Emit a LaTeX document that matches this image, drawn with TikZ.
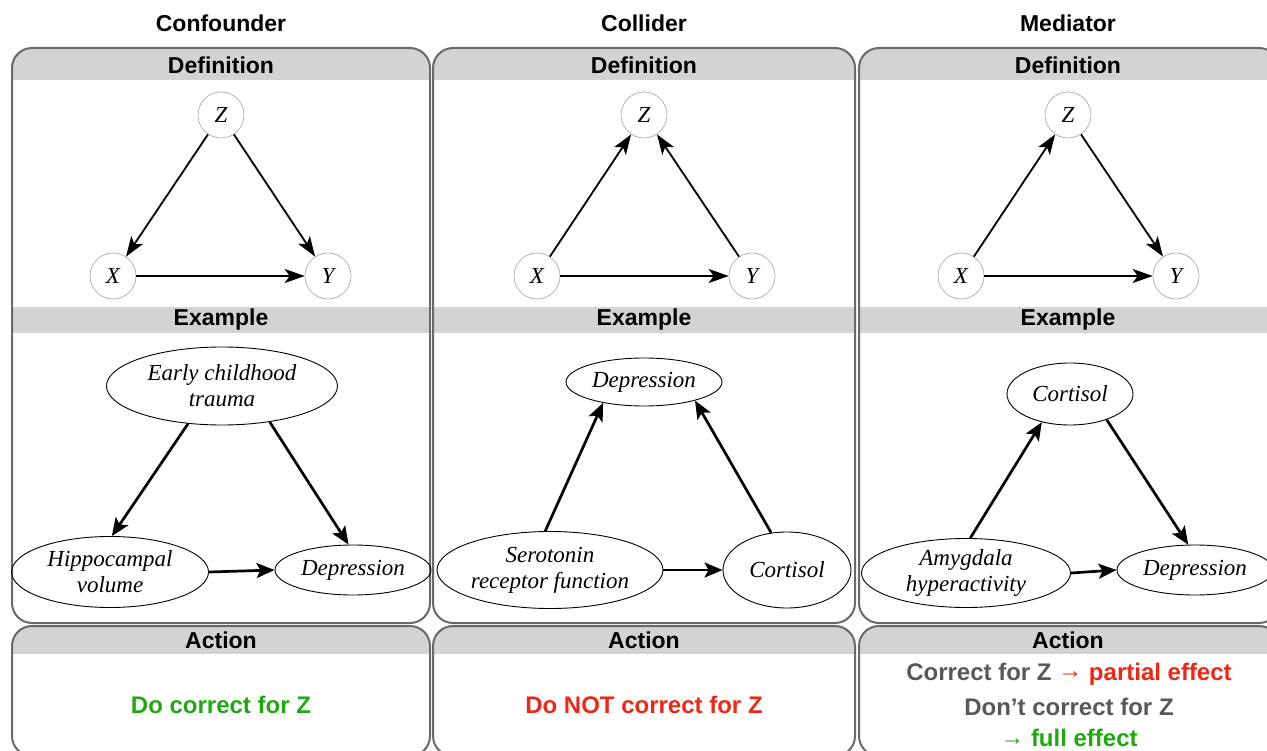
\documentclass[tikz,border=0pt]{standalone}
\usepackage{fontspec}
\setmainfont{Liberation Serif}
\setsansfont{Liberation Sans}
\usetikzlibrary{shapes.geometric, arrows.meta}

\definecolor{bandgray}{RGB}{211,211,211}
\definecolor{framegray}{RGB}{105,105,105}
\definecolor{textgray}{RGB}{88,88,88}
\definecolor{okgreen}{RGB}{30,170,15}
\definecolor{nored}{RGB}{238,38,22}

\newcommand{\toarrow}{\raisebox{1.5pt}{→}}

\begin{document}
\begin{tikzpicture}[x = 1pt, y = -1pt,
    head/.style = {font = \sffamily\bfseries\fontsize{23}{26}\selectfont},
    act/.style = {font = \sffamily\bfseries\fontsize{24}{30}\selectfont},
    var/.style = {circle, draw = gray!75, line width = 0.6pt, minimum size = 46pt, inner sep = 0pt, font = \fontsize{23}{26}\selectfont\itshape},
    ex/.style = {ellipse, draw, line width = 0.9pt, inner sep = 0pt, align = center, font = \fontsize{23}{26}\selectfont\itshape},
    defarrow/.style = {-{Stealth[length = 20pt, width = 14pt, inset = 5pt]}, line width = 1.8pt},
    exarrow/.style = {-{Stealth[length = 18pt, width = 15pt, inset = 4pt]}, line width = 2.7pt},
    panel/.style = {draw = framegray, line width = 2pt, rounded corners = 20pt}]

            \clip (0, 0) rectangle (1267, 751);

            % panels
            \begin{scope}
                \clip[rounded corners = 20pt] (12, 48) rectangle (430, 623);
                \fill[bandgray] (12, 48) rectangle (430, 80);
                \fill[bandgray] (12, 307) rectangle (430, 333);
            \end{scope}
            \draw[panel] (12, 48) rectangle (430, 623);
            \begin{scope}
                \clip[rounded corners = 20pt] (12, 626) rectangle (430, 756);
                \fill[bandgray] (12, 626) rectangle (430, 654);
            \end{scope}
            \draw[panel] (12, 626) rectangle (430, 756);

            \begin{scope}
                \clip[rounded corners = 20pt] (433, 48) rectangle (855, 623);
                \fill[bandgray] (433, 48) rectangle (855, 80);
                \fill[bandgray] (433, 307) rectangle (855, 333);
            \end{scope}
            \draw[panel] (433, 48) rectangle (855, 623);
            \begin{scope}
                \clip[rounded corners = 20pt] (433, 626) rectangle (855, 756);
                \fill[bandgray] (433, 626) rectangle (855, 654);
            \end{scope}
            \draw[panel] (433, 626) rectangle (855, 756);

            \begin{scope}
                \clip[rounded corners = 20pt] (859, 48) rectangle (1279, 623);
                \fill[bandgray] (859, 48) rectangle (1279, 80);
                \fill[bandgray] (859, 307) rectangle (1279, 333);
            \end{scope}
            \draw[panel] (859, 48) rectangle (1279, 623);
            \begin{scope}
                \clip[rounded corners = 20pt] (859, 626) rectangle (1279, 756);
                \fill[bandgray] (859, 626) rectangle (1279, 654);
            \end{scope}
            \draw[panel] (859, 626) rectangle (1279, 756);

            % titles
            \node (t1) at (221, 23) [head] {Confounder};
            \node (t2) at (644, 23) [head] {Collider};
            \node (t3) at (1068, 23) [head] {Mediator};

            \node (d1) at (221, 65) [head] {Definition};
            \node (d2) at (644, 65) [head] {Definition};
            \node (d3) at (1068, 65) [head] {Definition};

            \node (e1) at (221, 320) [head] {Example};
            \node (e2) at (644, 320) [head] {Example};
            \node (e3) at (1068, 320) [head] {Example};

            \node (a1) at (221, 640) [head] {Action};
            \node (a2) at (644, 640) [head] {Action};
            \node (a3) at (1068, 640) [head] {Action};

            % definition graphs
            \node (z1) at (221, 115) [var] {Z};
            \node (x1) at (113, 276) [var] {X};
            \node (y1) at (328, 276) [var] {Y};
            \draw[defarrow] (z1) -- (x1);
            \draw[defarrow] (z1) -- (y1);
            \draw[defarrow] (x1) -- (y1);

            \node (z2) at (644, 115) [var] {Z};
            \node (x2) at (537, 276) [var] {X};
            \node (y2) at (752, 276) [var] {Y};
            \draw[defarrow] (x2) -- (z2);
            \draw[defarrow] (y2) -- (z2);
            \draw[defarrow] (x2) -- (y2);

            \node (z3) at (1068, 115) [var] {Z};
            \node (x3) at (961, 276) [var] {X};
            \node (y3) at (1176, 276) [var] {Y};
            \draw[defarrow] (x3) -- (z3);
            \draw[defarrow] (z3) -- (y3);
            \draw[defarrow] (x3) -- (y3);

            % example graphs
            \node (trauma) at (222, 386) [ex, minimum width = 231pt, minimum height = 78pt] {Early childhood\\trauma};
            \node (hippo) at (110, 572) [ex, minimum width = 197pt, minimum height = 71pt] {Hippocampal\\volume};
            \node (dep1) at (353, 570) [ex, minimum width = 156pt, minimum height = 50pt] {Depression};
            \draw[exarrow] (trauma.228) -- (hippo.87);
            \draw[exarrow] (trauma.323) -- (dep1.100);
            \draw[exarrow] (hippo.east) -- (dep1.west);

            \node (dep2) at (644, 382) [ex, minimum width = 156pt, minimum height = 48pt] {Depression};
            \node (sero) at (550, 570) [ex, minimum width = 226pt, minimum height = 77pt] {Serotonin\\receptor function};
            \node (cort2) at (787, 570) [ex, minimum width = 128pt, minimum height = 76pt] {Cortisol};
            \draw[exarrow] (sero.97) -- (dep2.207);
            \draw[exarrow] (cort2.113) -- (dep2.340);
            \draw[exarrow] (sero.east) -- (cort2.west);

            \node (cort3) at (1070, 394) [ex, minimum width = 126pt, minimum height = 62pt] {Cortisol};
            \node (amyg) at (966, 573) [ex, minimum width = 209pt, minimum height = 69pt] {Amygdala\\hyperactivity};
            \node (dep3) at (1195, 570) [ex, minimum width = 156pt, minimum height = 50pt] {Depression};
            \draw[exarrow] (amyg.83) -- (cort3.225);
            \draw[exarrow] (cort3.325) -- (dep3.105);
            \draw[exarrow] (amyg.east) -- (dep3.west);

            % actions
            \node (do1) at (221, 705) [act, okgreen] {Do correct for Z};
            \node (do2) at (644, 705) [act, nored] {Do NOT correct for Z};
            \node (do3a) at (1069, 674) [act, textgray] {Correct for Z \textcolor{nored}{\toarrow{} partial effect}};
            \node (do3b) at (1069, 707) [act, textgray] {Don’t correct for Z};
            \node (do3c) at (1069, 738) [act, okgreen] {\toarrow{} full effect};
        \end{tikzpicture}
\end{document}
